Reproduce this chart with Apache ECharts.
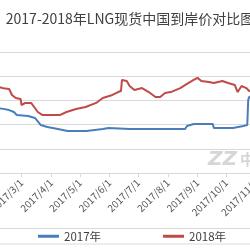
<!DOCTYPE html>
<html>
<head>
<meta charset="utf-8">
<script src="https://cdn.jsdelivr.net/npm/echarts@6/dist/echarts.min.js"></script>
<style>
  html, body { margin: 0; padding: 0; background: #fff; overflow: hidden; width: 250px; height: 250px; }
  #lngChart { position: absolute; left: -40px; top: 0; width: 340px; height: 250px; }
</style>
</head>
<body>
<div id="lngChart"></div>
<script>
// 月度刻度
var tickLabels = ['2017/2/1', '2017/3/1', '2017/4/1', '2017/5/1', '2017/6/1', '2017/7/1',
                  '2017/8/1', '2017/9/1', '2017/10/1', '2017/11/1'];

// 2017年
var dates2017 = ['2017-02-01', '2017-02-10', '2017-02-16', '2017-02-21', '2017-02-24', '2017-03-08',
                 '2017-03-15', '2017-03-21', '2017-03-28', '2017-04-08', '2017-04-18', '2017-05-08',
                 '2017-05-25', '2017-05-31', '2017-06-22', '2017-07-20', '2017-08-19', '2017-08-21',
                 '2017-08-28', '2017-09-17', '2017-09-18', '2017-10-08', '2017-10-19', '2017-10-23',
                 '2017-10-24', '2017-10-25', '2017-11-05', '2017-11-20'];
var values2017 = [5.4, 5.3, 5.2, 5.04, 4.79, 4.71,
                  4.55, 3.97, 3.8, 3.64, 3.47, 3.47,
                  3.64, 3.72, 3.64, 3.64, 3.64, 3.88,
                  4.05, 4.05, 3.72, 3.72, 3.88, 3.97,
                  6.03, 6.28, 6.5, 6.6];

// 2018年
var dates2018 = ['2017-02-01', '2017-02-10', '2017-02-16', '2017-02-19', '2017-02-23', '2017-02-28',
                 '2017-03-01', '2017-03-05', '2017-03-11', '2017-03-15', '2017-03-18', '2017-03-23',
                 '2017-04-10', '2017-04-17', '2017-04-27', '2017-05-07', '2017-05-18', '2017-05-25',
                 '2017-06-04', '2017-06-10', '2017-06-13', '2017-06-14', '2017-06-19', '2017-06-22',
                 '2017-06-27', '2017-07-05', '2017-07-12', '2017-07-19', '2017-07-24', '2017-07-29',
                 '2017-08-04', '2017-08-14', '2017-08-21', '2017-08-28', '2017-09-01', '2017-09-05',
                 '2017-09-13', '2017-09-18', '2017-09-27', '2017-10-03', '2017-10-10', '2017-10-13',
                 '2017-10-17', '2017-10-22', '2017-10-25', '2017-11-05', '2017-11-20'];
var values2018 = [7.2, 7.0, 6.94, 6.45, 6.2, 6.12,
                  5.62, 5.79, 5.79, 5.37, 5.04, 4.79,
                  4.79, 5.04, 5.29, 5.45, 5.79, 6.2,
                  6.45, 6.69, 6.78, 7.69, 7.6, 7.19,
                  6.86, 7.02, 6.69, 6.28, 6.28, 6.61,
                  6.69, 7.02, 7.36, 7.69, 7.86, 7.6,
                  7.52, 7.44, 7.6, 7.44, 7.27, 6.69,
                  7.19, 7.02, 6.78, 6.8, 6.9];

// 以天为单位（相对 2017-01-01）
function parseDay(s) {
    var p = s.split(/[\/-]/);
    return Math.round((Date.UTC(+p[0], +p[1] - 1, +p[2]) - Date.UTC(2017, 0, 1)) / 86400000);
}

function pairUp(dates, values) {
    return dates.map(function (d, i) { return [parseDay(d), values[i]]; });
}

var tickValues = tickLabels.map(parseDay);

var myChart = echarts.init(document.getElementById('lngChart'));
var option = {
    animation: false,
    title: {
        text: '2017-2018年LNG现货中国到岸价对比图',
        left: 'center',
        top: 7,
        textStyle: {
            color: '#404040',
            fontSize: 14,
            fontWeight: 'normal',
            fontFamily: 'Noto Sans CJK SC'
        }
    },
    legend: {
        bottom: 6,
        left: 38,
        padding: [2, 40],
        borderColor: '#d9d9d9',
        borderWidth: 1,
        itemGap: 62,
        itemWidth: 21,
        itemHeight: 3,
        icon: 'rect',
        textStyle: {
            color: '#404040',
            fontSize: 11.5,
            fontFamily: 'Noto Sans CJK SC'
        },
        data: ['2017年', '2018年']
    },
    grid: {
        left: 25.3,
        right: 16.4,
        top: 52,
        bottom: 77
    },
    xAxis: {
        type: 'value',
        min: parseDay('2017-02-01'),
        max: parseDay('2017-11-30'),
        axisLine: { lineStyle: { color: '#d9d9d9' } },
        axisTick: {
            show: true,
            length: 4,
            customValues: tickValues,
            lineStyle: { color: '#d9d9d9' }
        },
        axisLabel: {
            rotate: 45,
            fontSize: 10,
            color: '#595959',
            fontFamily: 'Noto Sans CJK SC',
            customValues: tickValues,
            formatter: function (v) {
                var i = tickValues.indexOf(v);
                return i >= 0 ? tickLabels[i] : '';
            }
        },
        splitLine: { show: false }
    },
    yAxis: {
        type: 'value',
        min: 0,
        max: 10,
        interval: 2,
        axisLine: { show: false },
        axisTick: { show: false },
        axisLabel: { color: '#595959', fontSize: 10 },
        splitLine: { lineStyle: { color: '#d9d9d9', width: 1 } }
    },
    graphic: [
        {
            type: 'text',
            left: 248,
            top: 150,
            style: {
                text: 'ZZ',
                fill: '#d6d6d6',
                font: 'italic bold 20px DejaVu Sans'
            }
        },
        {
            type: 'text',
            left: 280,
            top: 152,
            style: {
                text: '中',
                fill: '#d6d6d6',
                font: 'bold 15px "Noto Sans CJK SC"'
            }
        }
    ],
    series: [
        {
            name: '2017年',
            type: 'line',
            showSymbol: false,
            color: '#4a7ebb',
            lineStyle: { width: 2, color: '#4a7ebb' },
            data: pairUp(dates2017, values2017)
        },
        {
            name: '2018年',
            type: 'line',
            showSymbol: false,
            color: '#be4b48',
            lineStyle: { width: 2, color: '#be4b48' },
            data: pairUp(dates2018, values2018)
        }
    ]
};
myChart.setOption(option, true);
</script>
</body>
</html>
